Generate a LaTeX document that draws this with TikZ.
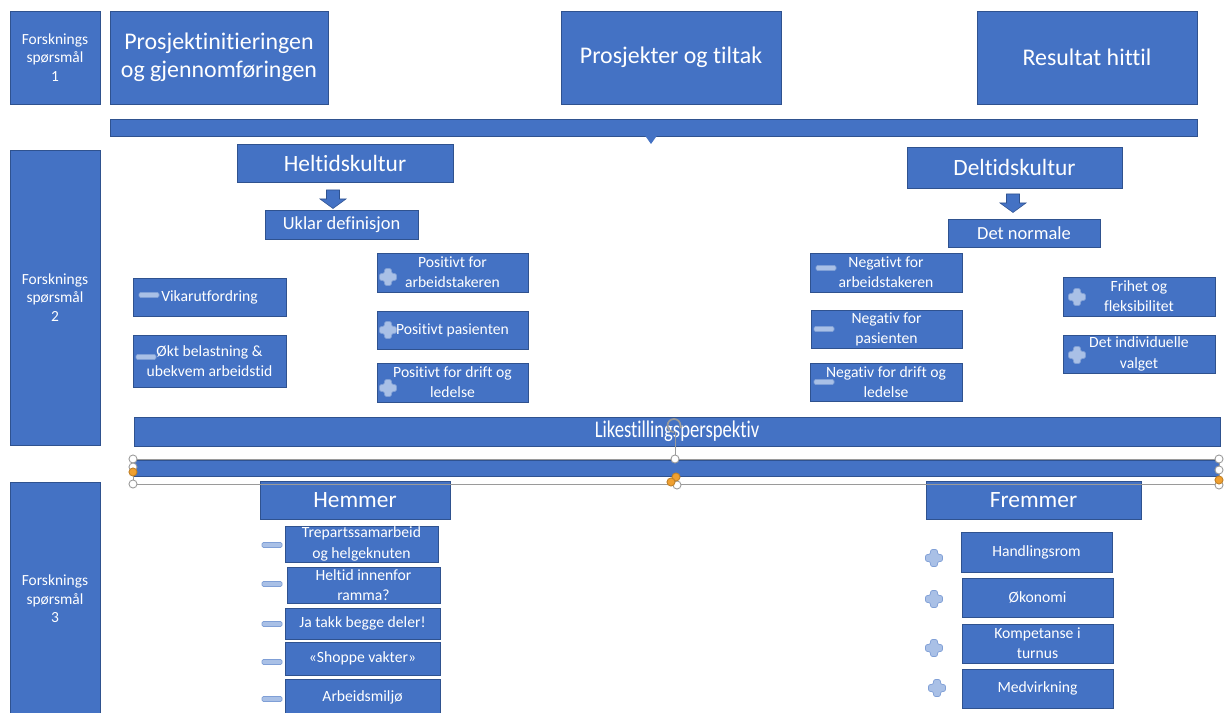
\documentclass[tikz,border=0pt]{standalone}
\usepackage{fontspec}
\setmainfont{Carlito}[Ligatures=NoCommon]
\usepackage{graphicx}
\usetikzlibrary{arrows.meta,calc}
\definecolor{pptblue}{HTML}{4472C4}
\definecolor{pptedge}{HTML}{2F528F}
\definecolor{iconblue}{HTML}{A9C0E6}
\definecolor{iconedge}{HTML}{7F9FD6}
\definecolor{handlegrey}{HTML}{9A9A9A}
\definecolor{handleorange}{HTML}{F0A030}
\tikzset{
  % bokser
  box/.style={draw=pptedge,fill=pptblue,line width=0.5pt,inner sep=0pt,
              text=white,align=center},
  spans/.style n args={4}{at={({(#1+#3)/2},{(#2+#4)/2})},
              minimum width={(#3-#1)*0.02cm},minimum height={(#4-#2)*0.02cm}},
  fs/.style={box,font=\fontsize{8.8}{10.5}\selectfont},
  big/.style={box,font=\fontsize{13.6}{15.9}\selectfont},
  hd/.style={box,font=\fontsize{13.3}{15.9}\selectfont},
  sub/.style={box,font=\fontsize{10.5}{12.5}\selectfont},
  item/.style={box,font=\fontsize{8.9}{11.5}\selectfont},
  bar/.style={box,font=\fontsize{13.6}{15}\selectfont},
  % piler og ikoner
  dnarrow/.style={fill=pptblue,draw=pptedge,line width=0.3pt},
  icon/.style={fill=iconblue,draw=iconedge,line width=0.4pt},
  % markering
  handle/.style={circle,draw=handlegrey,fill=white,line width=0.5pt,
                 inner sep=0pt,minimum size=4.6pt},
  ohandle/.style={handle,fill=handleorange,draw=handleorange!80!black},
  selframe/.style={draw=handlegrey,line width=0.4pt},
}
\newcommand\downblock[1]{\draw[dnarrow] (#1) ++(-6.5,-9) -- ++(13,0) -- ++(0,9)
  -- ++(6.5,0) -- ++(-13,9.5) -- ++(-13,-9.5) -- ++(6.5,0) -- cycle;}
\newcommand\plusicon[1]{\draw[icon,rounded corners=1.2pt] (#1) ++(-3.5,-8.5)
  -- ++(7,0) -- ++(0,5) -- ++(5,0) -- ++(0,7) -- ++(-5,0) -- ++(0,5)
  -- ++(-7,0) -- ++(0,-5) -- ++(-5,0) -- ++(0,-7) -- ++(5,0) -- cycle;}
\newcommand\minusicon[1]{\draw[icon,rounded corners=0.8pt] (#1) ++(-10,-2.5)
  rectangle ++(20,5);}

\begin{document}
\begin{tikzpicture}[x=0.02cm,y=-0.02cm]
  \clip (0,0) rectangle (1225,713);
  \fill[white] (0,0) rectangle (1225,713);
  % forskningsspørsmål
  \node[fs,spans={10}{11}{100}{104}] (fs1) {Forsknings\\spørsmål\\1};
  \node[fs,spans={10}{150}{100}{445}] (fs2) {Forsknings\\spørsmål\\2};
  \node[fs,spans={10}{482}{100}{716}] (fs3) {Forsknings\\spørsmål\\3};
  % rad 1
  \node[big,spans={110}{11}{328}{104}] (pinit) {Prosjektinitieringen\\og gjennomføringen};
  \node[big,spans={561}{11}{781}{104}] (ptiltak) {Prosjekter og tiltak};
  \node[big,spans={977}{11}{1197}{104}] (result) {Resultat hittil};
  \node[box,spans={110}{119}{1197}{136}] (topbar) {};
  \coordinate (tri) at (651,136);
  \fill[pptblue] (tri) ++(-6,-0.5) -- ++(12,0) -- ++(-6,8.5) -- cycle;
  % heltid
  \node[hd,spans={237}{144}{453}{182}] (heltid) {Heltidskultur};
  \coordinate (harr) at (333,199);
  \downblock{harr}
  \node[sub,spans={265}{210}{418}{239}] (uklar) {Uklar definisjon};
  \node[item,spans={133}{278}{286}{316}] (vikar) {Vikarutfordring};
  \node[item,spans={133}{335}{286}{387}] (okt) {Økt belastning \&\\ubekvem arbeidstid};
  \node[item,spans={377}{253}{528}{292}] (posarb) {Positivt for\\arbeidstakeren};
  \node[item,spans={377}{311}{528}{349}] (pospas) {Positivt pasienten};
  \node[item,spans={377}{363}{528}{402}] (posdrift) {Positivt for drift og\\ledelse};
  \minusicon{149,295}
  \minusicon{146,357}
  \plusicon{388,277}
  \plusicon{388,330}
  \plusicon{388,388}
  % deltid
  \node[hd,spans={907}{147}{1122}{188}] (deltid) {Deltidskultur};
  \coordinate (darr) at (1013,203);
  \downblock{darr}
  \node[sub,spans={948}{219}{1100}{247}] (normal) {Det normale};
  \node[item,spans={810}{253}{962}{292}] (negarb) {Negativt for\\arbeidstakeren};
  \node[item,spans={811}{310}{962}{348}] (negpas) {Negativ for\\pasienten};
  \node[item,spans={810}{363}{962}{401}] (negdrift) {Negativ for drift og\\ledelse};
  \node[item,spans={1063}{277}{1215}{316}] (frihet) {Frihet og\\fleksibilitet};
  \node[item,spans={1063}{335}{1215}{373}] (individ) {Det individuelle\\valget};
  \minusicon{826,268}
  \minusicon{824,329}
  \minusicon{824,382}
  \plusicon{1077,297}
  \plusicon{1077,355}
  % likestilling
  \node[bar,spans={134}{417}{1220}{446}] (likest) {\scalebox{0.78}[1]{Likestillingsperspektiv}};
  \node[box,spans={133}{460}{1219}{476}] (selbar) {};
  % hemmer
  \node[hd,spans={260}{481}{450}{519}] (hemmer) {Hemmer};
  \node[item,spans={285}{526}{438}{562}] (trepart) {Trepartssamarbeid\\og helgeknuten};
  \node[item,spans={287}{567}{440}{603}] (innenfor) {Heltid innenfor\\ramma?};
  \node[item,spans={285}{608}{440}{639}] (jatakk) {Ja takk begge deler!};
  \node[item,spans={285}{642}{440}{675}] (shoppe) {«Shoppe vakter»};
  \node[item,spans={285}{679}{440}{716}] (miljo) {Arbeidsmiljø};
  \foreach \y in {545,584,624,662,699}
    \minusicon{272,\y}
  % fremmer
  \node[hd,spans={926}{481}{1141}{519}] (fremmer) {Fremmer};
  \node[item,spans={961}{532}{1112}{572}] (handl) {Handlingsrom};
  \node[item,spans={962}{578}{1113}{617}] (okonomi) {Økonomi};
  \node[item,spans={962}{624}{1113}{663}] (kompet) {Kompetanse i\\turnus};
  \node[item,spans={962}{669}{1113}{708}] (medv) {Medvirkning};
  \plusicon{934,558}
  \plusicon{934,599}
  \plusicon{934,648}
  \plusicon{937,688}
  % markering av valgt figur
  \draw[selframe] (133,459) rectangle (1219,484);
  \draw[selframe] (675,432) -- (675,459);
  \draw[selframe,line width=1pt,-{Stealth[length=2.5pt]}] (674,432)
    arc[start angle=90,end angle=390,radius=6.5];
  \node[handle] (h1) at (133,459) {};
  \node[handle] (h2) at (133,467) {};
  \node[ohandle] (h3) at (133,472) {};
  \node[handle] (h4) at (133,484) {};
  \node[handle] (h5) at (675,459) {};
  \node[handle] (h6) at (677,485) {};
  \node[ohandle] (h7) at (676,477) {};
  \node[ohandle] (h8) at (671,482) {};
  \node[handle] (h9) at (1219,459) {};
  \node[handle] (h10) at (1219,470) {};
  \node[handle] (h11) at (1219,485) {};
  \node[ohandle] (h12) at (1219,480) {};
\end{tikzpicture}
\end{document}
